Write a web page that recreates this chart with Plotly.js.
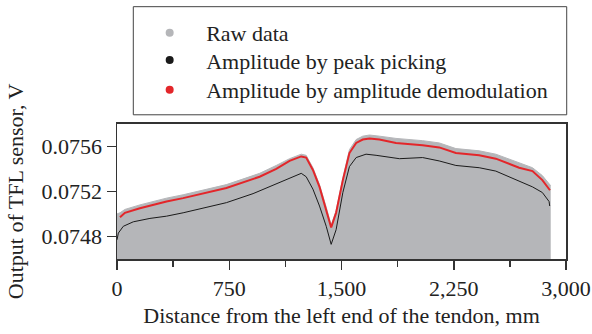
<!DOCTYPE html>
<html>
<head>
<meta charset="utf-8">
<script src="https://cdn.plot.ly/plotly-3.0.1.min.js"></script>
<style>html,body{margin:0;padding:0;background:#fff;}#chart{width:592px;height:334px;}</style>
</head>
<body>
<div id="chart"></div>
<script>
// Raw data upper envelope (gray band)
const rawX = [0, 20, 53, 153, 331, 442, 731, 953, 1064, 1153, 1231, 1264, 1309, 1353, 1398, 1431, 1464, 1509, 1553, 1598, 1642, 1687, 1753, 1864, 2042, 2153, 2264, 2420, 2531, 2687, 2776, 2842, 2898];
const rawY = [0.07500, 0.07501, 0.07504, 0.07508, 0.07514, 0.07517, 0.07526, 0.07536, 0.07543, 0.07549, 0.07553, 0.07552, 0.07541, 0.07526, 0.07506, 0.07490, 0.07503, 0.07532, 0.07557, 0.07566, 0.07569, 0.07570, 0.07569, 0.07567, 0.07565, 0.07563, 0.07558, 0.07556, 0.07553, 0.07545, 0.07541, 0.07534, 0.07525];

// Amplitude by amplitude demodulation (red)
const demodX = [20, 53, 153, 331, 442, 731, 953, 1064, 1153, 1231, 1264, 1309, 1353, 1398, 1431, 1464, 1509, 1553, 1598, 1642, 1687, 1753, 1864, 2042, 2153, 2264, 2420, 2531, 2687, 2776, 2842, 2893];
const demodY = [0.07497, 0.07501, 0.07505, 0.07511, 0.07514, 0.07523, 0.07533, 0.07540, 0.07547, 0.07551, 0.07550, 0.07539, 0.07524, 0.07504, 0.07488, 0.07501, 0.07530, 0.07554, 0.07563, 0.07566, 0.07567, 0.07566, 0.07563, 0.07561, 0.07559, 0.07554, 0.07552, 0.07549, 0.07541, 0.07538, 0.07530, 0.07521];

// Amplitude by peak picking (black)
const peakX = [0, 9, 42, 109, 220, 331, 442, 731, 909, 1064, 1153, 1231, 1264, 1309, 1353, 1398, 1431, 1464, 1509, 1553, 1598, 1664, 1731, 1775, 1887, 2042, 2153, 2264, 2420, 2531, 2687, 2776, 2842, 2887, 2891];
const peakY = [0.07477, 0.07483, 0.07489, 0.07493, 0.07496, 0.07498, 0.07501, 0.07510, 0.07518, 0.07527, 0.07532, 0.07536, 0.07533, 0.07522, 0.07507, 0.07489, 0.07473, 0.07486, 0.07519, 0.07542, 0.07550, 0.07553, 0.07552, 0.07551, 0.07549, 0.07550, 0.07547, 0.07543, 0.07541, 0.07538, 0.07529, 0.07524, 0.07519, 0.07511, 0.07507];

const seriesNames = ['Raw data', 'Amplitude by peak picking', 'Amplitude by amplitude demodulation'];
const xTickVals = [0, 750, 1500, 2250, 3000];
const xTickText = ['0', '750', '1,500', '2,250', '3,000'];
const xMinorVals = [375, 1125, 1875, 2625];
const yTickVals = [0.0748, 0.0752, 0.0756];
const yTickText = ['0.0748', '0.0752', '0.0756'];

const GRAY = '#b5b6b9', BLACK = '#1a1a1a', RED = '#e3262a';
const FONT = 'Liberation Serif, Times New Roman, serif';

const traces = [
  {x: rawX, y: rawY, type: 'scatter', mode: 'lines', fill: 'tozeroy', fillcolor: GRAY,
   line: {color: GRAY, width: 1}, showlegend: false, hoverinfo: 'skip'},
  {x: peakX, y: peakY, type: 'scatter', mode: 'lines', line: {color: BLACK, width: 1}, showlegend: false},
  {x: demodX, y: demodY, type: 'scatter', mode: 'lines', line: {color: RED, width: 2}, showlegend: false},
  {x: [null], y: [null], type: 'scatter', mode: 'markers', name: seriesNames[0], legend: 'legend', marker: {color: GRAY, size: 8}},
  {x: [null], y: [null], type: 'scatter', mode: 'markers', name: seriesNames[1], legend: 'legend2', marker: {color: BLACK, size: 8}},
  {x: [null], y: [null], type: 'scatter', mode: 'markers', name: seriesNames[2], legend: 'legend3', marker: {color: RED, size: 8}}
];

function leg(y) {
  return {
    x: 0.036, y: y, xanchor: 'left', yanchor: 'top',
    bgcolor: 'rgba(0,0,0,0)', borderwidth: 0,
    font: {family: FONT, size: 22, color: '#222'},
    itemwidth: 63
  };
}

const layout = {
  width: 592, height: 334,
  margin: {l: 117, r: 26, t: 0, b: 74.5, pad: 0},
  paper_bgcolor: '#fff', plot_bgcolor: '#fff',
  font: {family: FONT, size: 22, color: '#222'},
  showlegend: true,
  legend: leg(0.954),
  legend2: leg(0.849),
  legend3: leg(0.734),
  shapes: [
    {type: 'rect', xref: 'paper', yref: 'paper', x0: 0.0363, x1: 1.0016, y0: 0.5568, y1: 0.9742,
     line: {color: '#444', width: 1}, fillcolor: 'rgba(0,0,0,0)', layer: 'below'}
  ],
  xaxis: {
    range: [0, 3000], showgrid: false, zeroline: false,
    showline: true, mirror: true, linecolor: '#333', linewidth: 1.5,
    ticks: 'outside', ticklen: 9, tickwidth: 1.5, tickcolor: '#333',
    tickmode: 'array', tickvals: xTickVals, ticktext: xTickText,
    minor: {tickmode: 'array', tickvals: xMinorVals, ticks: 'outside', ticklen: 6, tickwidth: 1.5, tickcolor: '#333', showgrid: false},
    title: {text: 'Distance from the left end of the tendon, mm', font: {family: FONT, size: 22, color: '#222'}, standoff: 7}
  },
  yaxis: {
    domain: [0, 0.5222],
    range: [0.0746, 0.0758], showgrid: false, zeroline: false,
    showline: true, mirror: true, linecolor: '#333', linewidth: 1.5,
    ticks: 'outside', ticklen: 9, tickwidth: 1.5, tickcolor: '#333',
    tickmode: 'array', tickvals: yTickVals, ticktext: yTickText,
    title: {text: 'Output of TFL sensor, V', font: {family: FONT, size: 22, color: '#222'}, standoff: 12}
  }
};

Plotly.newPlot('chart', traces, layout, {displayModeBar: false, staticPlot: true});
</script>
</body>
</html>
